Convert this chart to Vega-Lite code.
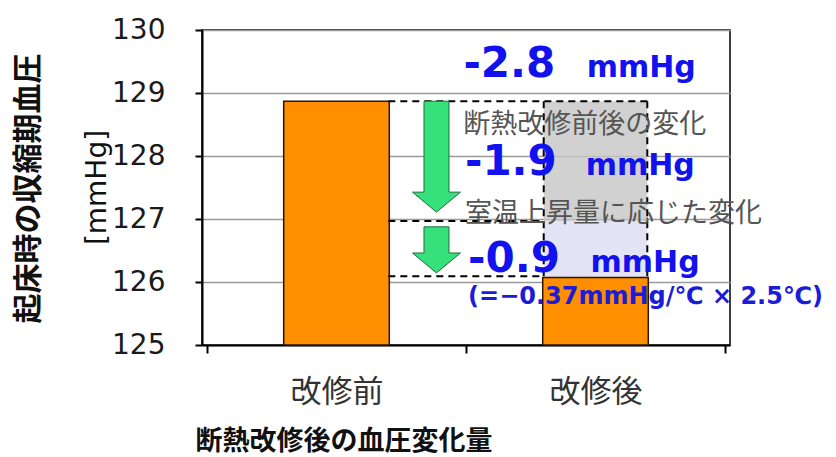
{
  "$schema": "https://vega.github.io/schema/vega-lite/v6.json",
  "width": 528,
  "height": 315,
  "autosize": {"type": "none"},
  "padding": {"left": 202, "top": 30, "right": 106, "bottom": 112},
  "background": "#ffffff",
  "config": {"view": {"stroke": "#000000", "strokeWidth": 1.5}},
  "resolve": {"axis": {"y": "independent"}},
  "layer": [
    {
      "data": {"values": [
        {"part": "断熱改修前後の変化", "x0": 1.3, "x1": 1.7, "y0": 126.97, "y1": 128.87},
        {"part": "室温上昇量に応じた変化", "x0": 1.3, "x1": 1.7, "y0": 126.07, "y1": 126.97}
      ]},
      "mark": {"type": "rect", "opacity": 0.8},
      "encoding": {
        "x": {"field": "x0", "type": "quantitative", "scale": {"domain": [0, 2], "nice": false, "zero": false},
          "axis": {
            "values": [0, 0.5, 1, 1.5, 2],
            "labelExpr": "datum.value == 0.5 ? '改修前' : (datum.value == 1.5 ? '改修後' : '')",
            "title": "断熱改修後の血圧変化量",
            "titleFont": "Noto Sans CJK JP", "titleFontSize": 27, "titleFontWeight": "bold", "titleColor": "#111111",
            "titleX": -7, "titleY": 96, "titleAlign": "left", "titleBaseline": "middle", "titleAnchor": "start",
            "labelFont": "Noto Sans CJK JP", "labelFontSize": 31, "labelColor": "#333333", "labelFontWeight": "normal",
            "labelBaseline": "middle", "labelPadding": 39, "labelOverlap": false, "labelBound": false, "labelFlush": false,
            "domainColor": "#000000", "domainWidth": 2,
            "tickColor": "#000000", "tickWidth": 2, "tickSize": 8,
            "tickOpacity": {"condition": {"test": "datum.value == 0.5 || datum.value == 1.5", "value": 0}, "value": 1},
            "grid": false
          }},
        "x2": {"field": "x1"},
        "y": {"field": "y0", "type": "quantitative", "scale": {"domain": [125, 130], "nice": false, "zero": false},
          "axis": {
            "orient": "left",
            "title": "[mmHg]", "titleFont": "DejaVu Sans", "titleFontSize": 28, "titleFontWeight": "normal", "titleColor": "#111111",
            "titleAngle": -90, "titleX": -105, "titleY": 157, "titleAlign": "center", "titleBaseline": "middle",
            "labels": false, "ticks": false, "domain": false, "grid": false
          }},
        "y2": {"field": "y1"},
        "color": {"field": "part", "type": "nominal", "legend": null,
          "scale": {"domain": ["断熱改修前後の変化", "室温上昇量に応じた変化"], "range": ["#c6c6c6", "#dcdcf2"]}}
      }
    },
    {
      "data": {"values": [
        {"condition": "改修前", "pos": 0.5, "sbp": 128.87},
        {"condition": "改修後", "pos": 1.5, "sbp": 126.07}
      ]},
      "mark": {"type": "bar", "width": 105.6, "fill": "#FF8E00", "stroke": "#2b1400", "strokeWidth": 1.5},
      "encoding": {
        "x": {"field": "pos", "type": "quantitative"},
        "y": {"field": "sbp", "type": "quantitative",
          "axis": {
            "orient": "left",
            "values": [125, 126, 127, 128, 129, 130],
            "title": "起床時の収縮期血圧", "titleFont": "Noto Sans CJK JP", "titleFontSize": 30, "titleFontWeight": "bold", "titleColor": "#111111",
            "titleAngle": -90, "titleX": -174, "titleY": 158, "titleAlign": "center", "titleBaseline": "middle",
            "labelFont": "DejaVu Sans", "labelFontSize": 28, "labelColor": "#1a1a1a", "labelPadding": 30,
            "domainColor": "#000000", "domainWidth": 2,
            "tickColor": "#000000", "tickWidth": 2, "tickSize": 7,
            "grid": true, "gridColor": "#9a9a9a", "gridWidth": 1.5
          }},
        "y2": {"datum": 125}
      }
    },
    {
      "data": {"values": [
        {"seg": "top", "x0": 0.7, "x1": 1.7, "y0": 128.87, "y1": 128.87},
        {"seg": "middle", "x0": 0.7, "x1": 1.3, "y0": 126.97, "y1": 126.97},
        {"seg": "bottom", "x0": 0.7, "x1": 1.3, "y0": 126.09, "y1": 126.09},
        {"seg": "left", "x0": 1.3, "x1": 1.3, "y0": 128.87, "y1": 126.07},
        {"seg": "right", "x0": 1.7, "x1": 1.7, "y0": 128.87, "y1": 126.07}
      ]},
      "mark": {"type": "rule", "color": "#000000", "strokeWidth": 2, "strokeDash": [7, 5]},
      "encoding": {
        "x": {"field": "x0", "type": "quantitative"},
        "x2": {"field": "x1"},
        "y": {"field": "y0", "type": "quantitative", "axis": null},
        "y2": {"field": "y1"}
      }
    },
    {
      "data": {"values": [{"arrow": "断熱改修前後の変化", "xc": 0.886, "yc": 127.99}]},
      "mark": {"type": "point", "filled": true, "fill": "#36e07a", "stroke": "#1d6e3c", "strokeWidth": 1, "opacity": 1, "size": 2304,
        "shape": "M -0.52 -2.31 L 0.52 -2.31 L 0.52 1.48 L 1 1.48 L 0 2.31 L -1 1.48 L -0.52 1.48 Z"},
      "encoding": {
        "x": {"field": "xc", "type": "quantitative"},
        "y": {"field": "yc", "type": "quantitative", "axis": null}
      }
    },
    {
      "data": {"values": [{"arrow": "室温上昇量に応じた変化", "xc": 0.886, "yc": 126.51}]},
      "mark": {"type": "point", "filled": true, "fill": "#36e07a", "stroke": "#1d6e3c", "strokeWidth": 1, "opacity": 1, "size": 2304,
        "shape": "M -0.52 -0.96 L 0.52 -0.96 L 0.52 0.13 L 1 0.13 L 0 0.96 L -1 0.13 L -0.52 0.13 Z"},
      "encoding": {
        "x": {"field": "xc", "type": "quantitative"},
        "y": {"field": "yc", "type": "quantitative", "axis": null}
      }
    },
    {
      "data": {"values": [
        {"label": "断熱改修前後の変化", "xl": 0.989, "yl": 128.5},
        {"label": "室温上昇量に応じた変化", "xl": 0.996, "yl": 127.08}
      ]},
      "mark": {"type": "text", "align": "left", "baseline": "middle", "font": "Noto Sans CJK JP", "fontSize": 27, "color": "#555555"},
      "encoding": {
        "x": {"field": "xl", "type": "quantitative"},
        "y": {"field": "yl", "type": "quantitative", "axis": null},
        "text": {"field": "label"}
      }
    },
    {
      "data": {"values": [
        {"change": "-2.8", "xl": 0.99, "yl": 129.25},
        {"change": "-1.9", "xl": 0.996, "yl": 127.7},
        {"change": "-0.9", "xl": 1.008, "yl": 126.16}
      ]},
      "mark": {"type": "text", "align": "left", "baseline": "alphabetic", "font": "DejaVu Sans", "fontWeight": "bold", "fontSize": 42, "color": "#1212ee"},
      "encoding": {
        "x": {"field": "xl", "type": "quantitative"},
        "y": {"field": "yl", "type": "quantitative", "axis": null},
        "text": {"field": "change"}
      }
    },
    {
      "data": {"values": [
        {"unit": "mmHg", "xl": 1.466, "yl": 129.25},
        {"unit": "mmHg", "xl": 1.462, "yl": 127.7},
        {"unit": "mmHg", "xl": 1.481, "yl": 126.16}
      ]},
      "mark": {"type": "text", "align": "left", "baseline": "alphabetic", "font": "DejaVu Sans", "fontWeight": "bold", "fontSize": 30, "color": "#1212ee"},
      "encoding": {
        "x": {"field": "xl", "type": "quantitative"},
        "y": {"field": "yl", "type": "quantitative", "axis": null},
        "text": {"field": "unit"}
      }
    },
    {
      "data": {"values": [
        {"note": "(=−0.37mmHg/℃ × 2.5℃)", "xl": 1.008, "yl": 125.76}
      ]},
      "mark": {"type": "text", "align": "left", "baseline": "middle", "font": "DejaVu Sans", "fontWeight": "bold", "fontSize": 24, "color": "#1c1cd8"},
      "encoding": {
        "x": {"field": "xl", "type": "quantitative"},
        "y": {"field": "yl", "type": "quantitative", "axis": null},
        "text": {"field": "note"}
      }
    }
  ]
}
